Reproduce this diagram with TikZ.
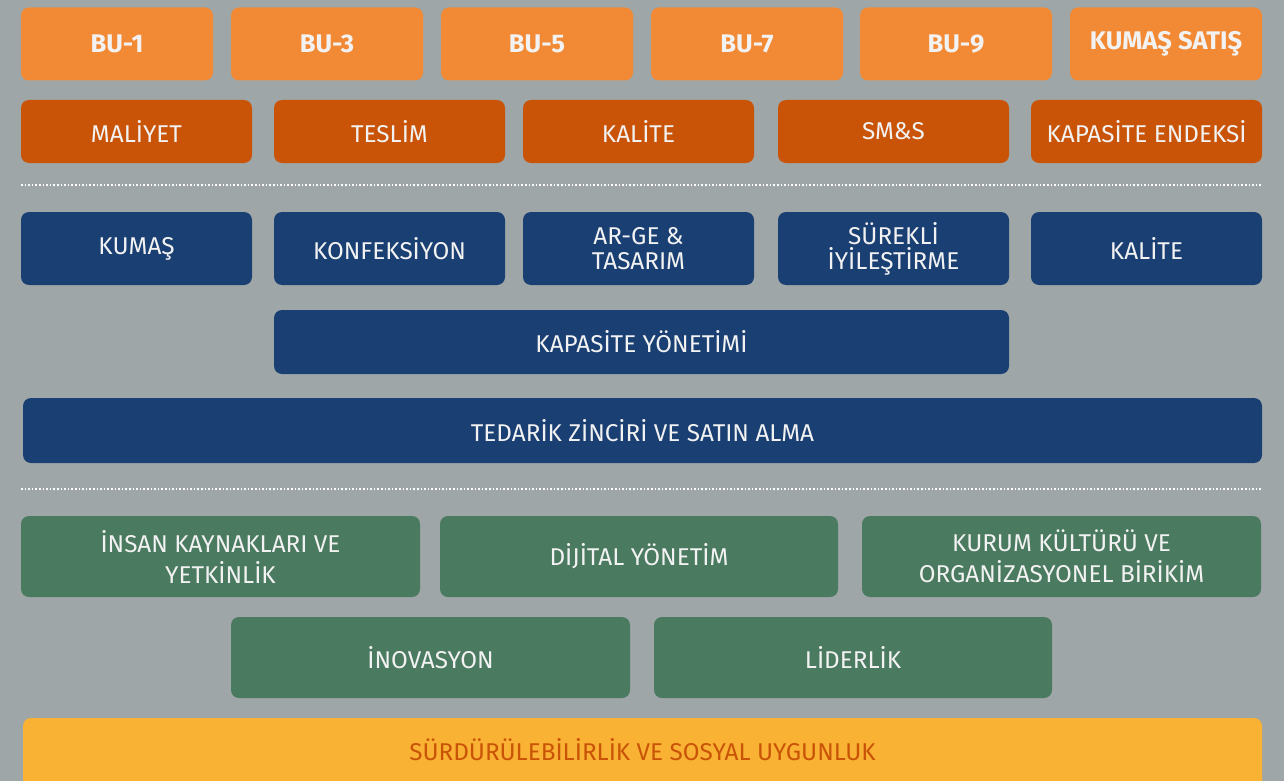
\documentclass[tikz,border=0pt]{standalone}
\usepackage{fontspec}
\setmainfont{Fira Sans}
\usetikzlibrary{positioning}

\definecolor{bggray}{HTML}{9FA6A7}
\definecolor{buorange}{HTML}{F28A35}
\definecolor{kpiorange}{HTML}{C95407}
\definecolor{navy}{HTML}{1A3F72}
\definecolor{sagegreen}{HTML}{4A7A5F}
\definecolor{sunyellow}{HTML}{F9B233}

\tikzset{
  box/.style={rounded corners=8pt, inner sep=2pt, align=center, text=white!95!black,
    font=\fontsize{24.3}{25}\selectfont},
  bubox/.style={box, fill=buorange, minimum width=192, minimum height=73,
    font=\fontsize{25.5}{27}\selectfont\bfseries},
  kpibox/.style={box, fill=kpiorange, minimum width=231, minimum height=63},
  funcbox/.style={box, fill=navy, minimum width=231, minimum height=73},
  basebox/.style={box, fill=sagegreen, minimum width=399, minimum height=81,
    font=\fontsize{24.3}{31}\selectfont},
  sep/.style={white, dotted, line width=1.6pt}
}

\begin{document}
\begin{tikzpicture}[x=1pt, y=-1pt]
\fill[bggray] (0,0) rectangle (1284,781);
\clip (0,0) rectangle (1284,781);

% business units
\node[bubox] at (117,44) (bu1) {BU-1};
\node[bubox] at (327,44) (bu3) {BU-3};
\node[bubox] at (537,44) (bu5) {BU-5};
\node[bubox] at (747,44) (bu7) {BU-7};
\node[bubox] at (956,44) (bu9) {BU-9};
\node[bubox] at (1166,44) (kumassatis) {KUMAŞ SATIŞ};

% performance indicators
\node[kpibox] at (136.5,131.5) (maliyet) {MALİYET};
\node[kpibox] at (389.5,131.5) (teslim) {TESLİM};
\node[kpibox] at (638.5,131.5) (kalitekpi) {KALİTE};
\node[kpibox] at (893.5,131.5) (sms) {SM\&S};
\node[kpibox] at (1146.5,131.5) (endeks) {KAPASİTE ENDEKSİ};

\draw[sep] (21,185) -- (1262,185);

% functions
\node[funcbox] at (136.5,248.5) (kumas) {KUMAŞ};
\node[funcbox] at (389.5,248.5) (konfeksiyon) {KONFEKSİYON};
\node[funcbox] at (638.5,248.5) (arge) {AR-GE \&\\TASARIM};
\node[funcbox] at (893.5,248.5) (surekli) {SÜREKLİ\\İYİLEŞTİRME};
\node[funcbox] at (1146.5,248.5) (kalite) {KALİTE};
\node[funcbox, minimum width=735, minimum height=64] at (641.5,342) (kapasite) {KAPASİTE YÖNETİMİ};
\node[funcbox, minimum width=1239, minimum height=65] at (642.5,430.5) (tedarik) {TEDARİK ZİNCİRİ VE SATIN ALMA};

\draw[sep] (21,489) -- (1262,489);

% foundations
\node[basebox] at (220.5,556.5) (insan) {İNSAN KAYNAKLARI VE\\YETKİNLİK};
\node[basebox, minimum width=398] at (639,556.5) (dijital) {DİJİTAL YÖNETİM};
\node[basebox] at (1061.5,556.5) (kultur) {KURUM KÜLTÜRÜ VE\\ORGANİZASYONEL BİRİKİM};
\node[basebox] at (430.5,657.5) (inovasyon) {İNOVASYON};
\node[basebox, minimum width=398] at (853,657.5) (liderlik) {LİDERLİK};

\node[box, fill=sunyellow, minimum width=1239, minimum height=80] at (642.5,758) (surdurulebilirlik) {};
\node[text=kpiorange, font=\fontsize{24.3}{26}\selectfont] at (642.5,750) (surdlabel)
  {SÜRDÜRÜLEBİLİRLİK VE SOSYAL UYGUNLUK};
\end{tikzpicture}
\end{document}
